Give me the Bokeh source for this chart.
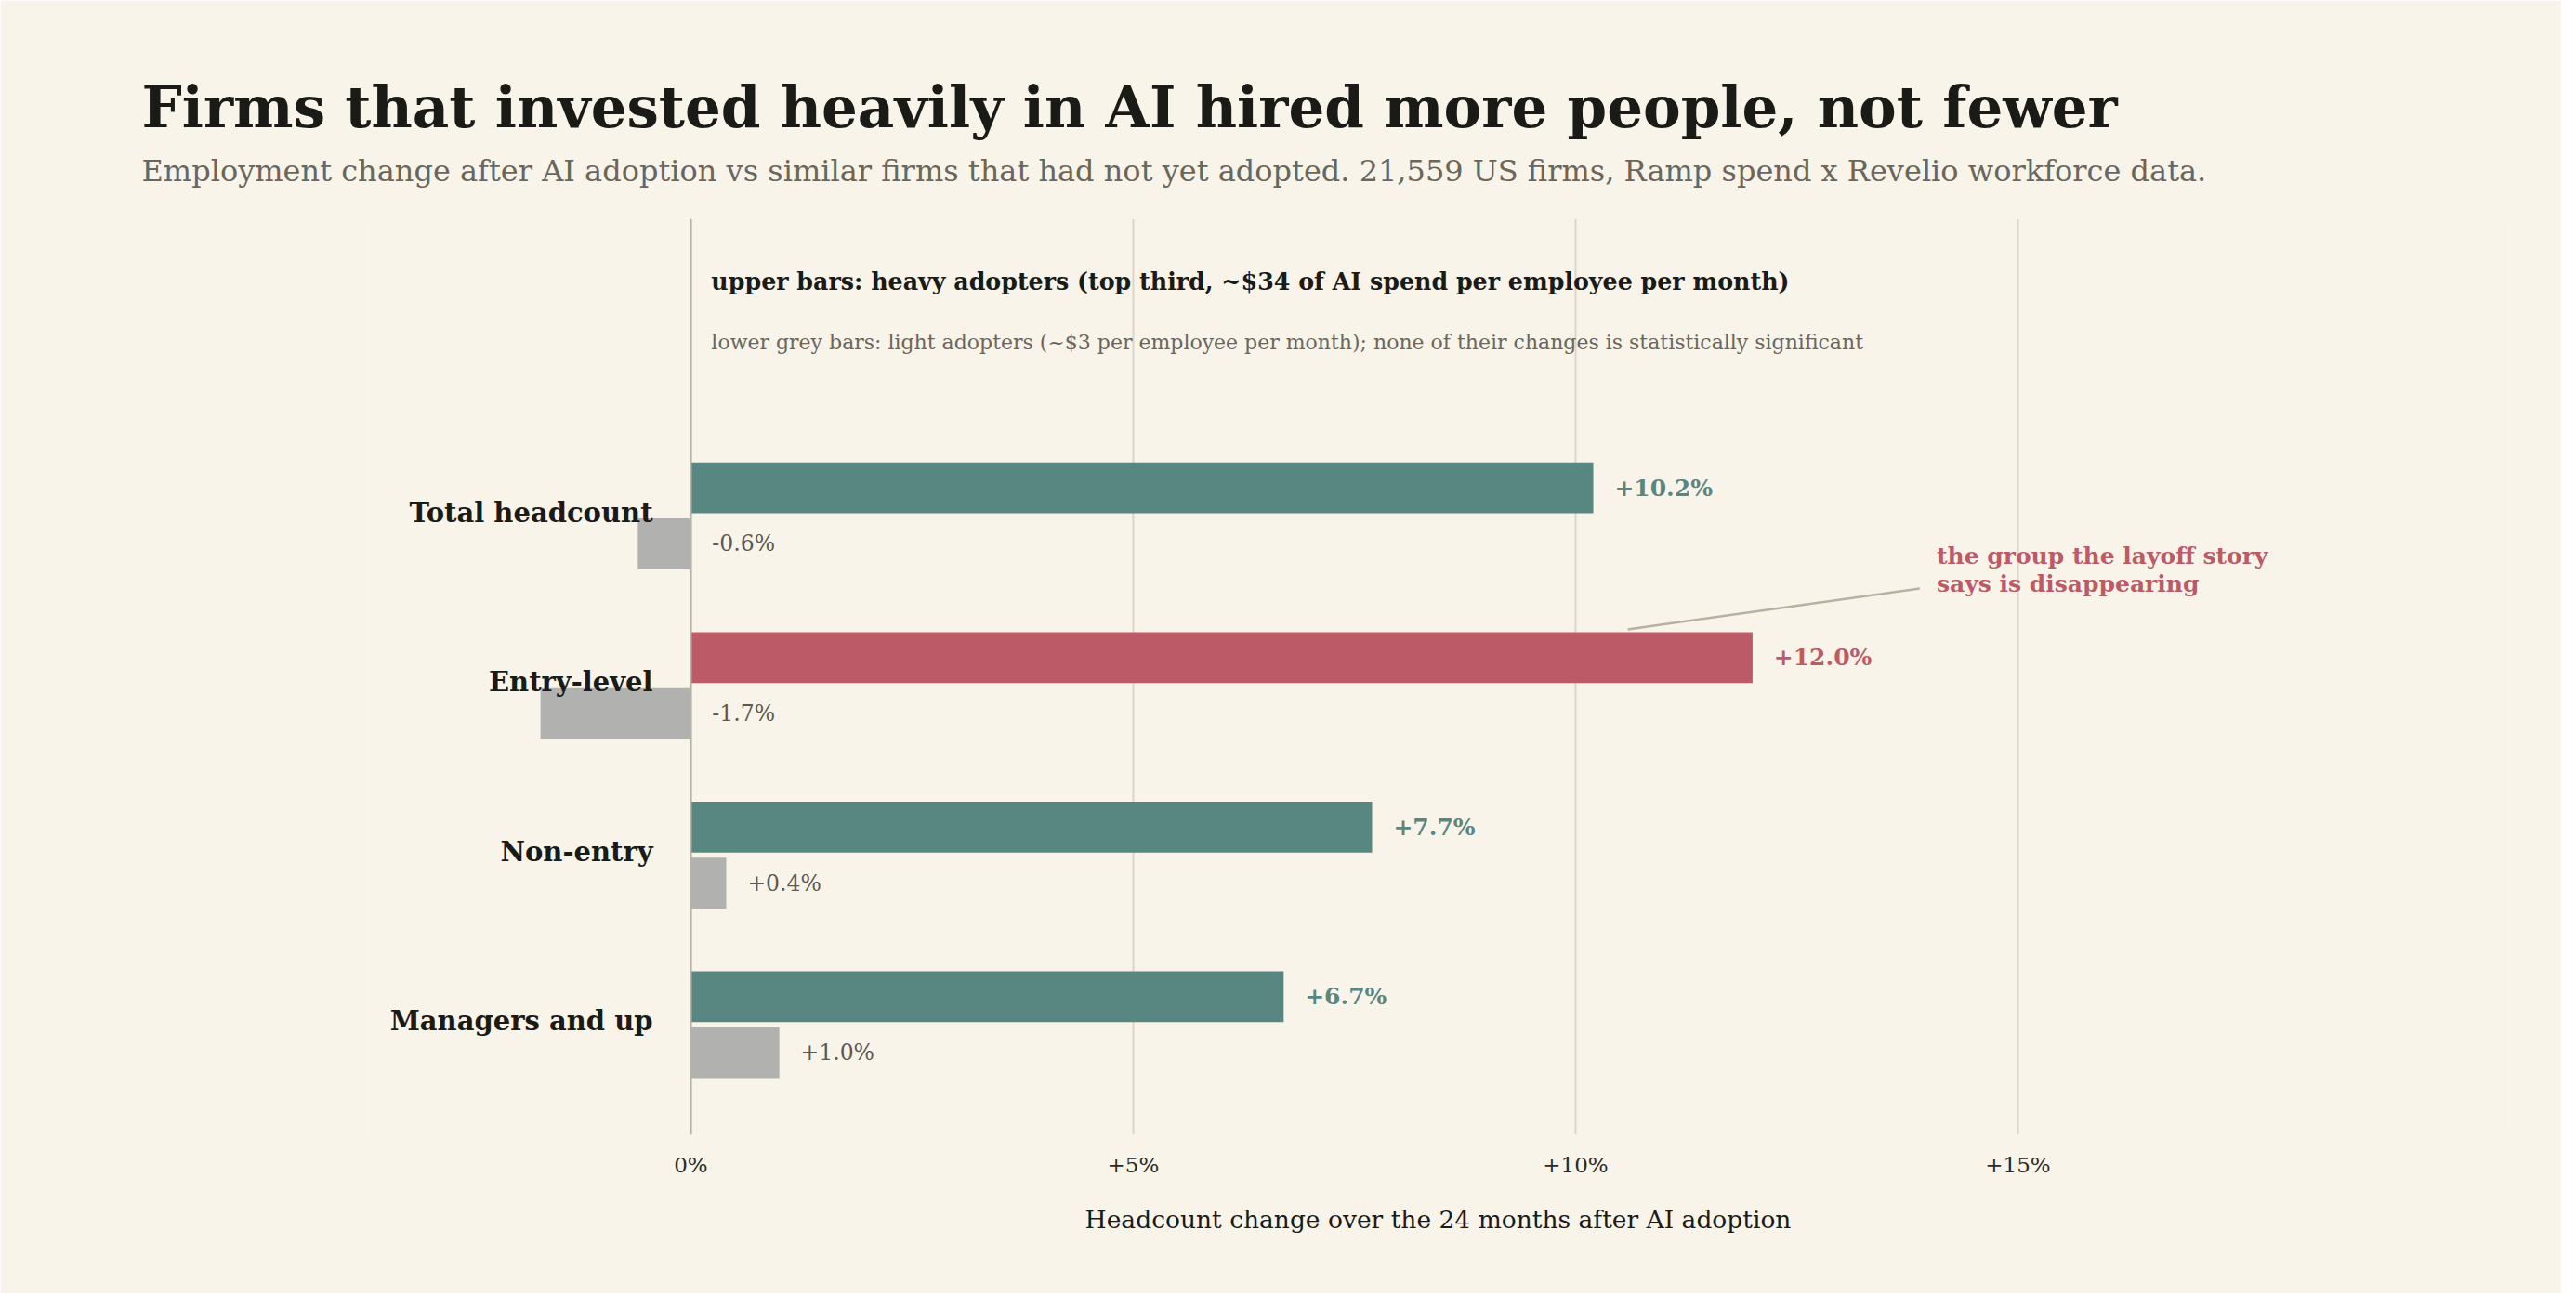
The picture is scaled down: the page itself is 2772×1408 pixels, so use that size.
from bokeh.plotting import figure
from bokeh.models import ColumnDataSource, Range1d, FixedTicker, Span, Title
from bokeh.embed import file_html
from bokeh.resources import INLINE
from bokeh.core.properties import value

# ---------------- data ----------------
categories = ["Total headcount", "Entry-level", "Non-entry", "Managers and up"]
heavy = [10.2, 12.0, 7.7, 6.7]          # heavy adopters, % headcount change
light = [-0.6, -1.7, 0.4, 1.0]          # light adopters, % headcount change
tick_values = [0, 5, 10, 15]
tick_labels = ["0%", "+5%", "+10%", "+15%"]
highlight = "Entry-level"

TITLE = "Firms that invested heavily in AI hired more people, not fewer"
SUBTITLE = ("Employment change after AI adoption vs similar firms that had not yet adopted. "
            "21,559 US firms, Ramp spend x Revelio workforce data.")
NOTE_HEAVY = "upper bars: heavy adopters (top third, ~$34 of AI spend per employee per month)"
NOTE_LIGHT = ("lower grey bars: light adopters (~$3 per employee per month); "
              "none of their changes is statistically significant")
CALLOUT = ["the group the layoff story", "says is disappearing"]
X_LABEL = "Headcount change over the 24 months after AI adoption"

# ---------------- style ----------------
FONT = "DejaVu Serif"
BG = "#f8f4e9"
TEAL = "#588681"
RED = "#bd5a67"
GREY = "#b1b2b0"
INK = "#1a1a17"
MUTED = "#6b665c"

W, H = 2756, 1392
BL, BR, BT, BB = 395, 57, 235, 171

p = figure(width=W, height=H, output_backend="svg", toolbar_location=None, title=None,
           x_range=Range1d(-3.655, 20.546), y_range=Range1d(3.649, -1.752),
           min_border_left=BL, min_border_right=BR, min_border_top=BT,
           min_border_bottom=BB, y_axis_location=None)
p.background_fill_color = BG
p.border_fill_color = BG
p.outline_line_color = None

ticker = FixedTicker(ticks=tick_values)
p.xaxis.ticker = ticker
p.xaxis.major_label_overrides = {v: t for v, t in zip(tick_values, tick_labels)}
p.xaxis.axis_line_color = None
p.xaxis.major_tick_line_color = None
p.xaxis.minor_tick_line_color = None
p.xaxis.major_label_text_font = FONT
p.xaxis.major_label_text_font_size = "23px"
p.xaxis.major_label_text_color = "#2a2a26"
p.xaxis.major_label_standoff = 13
p.xaxis.axis_label = X_LABEL
p.xaxis.axis_label_text_font = FONT
p.xaxis.axis_label_text_font_size = "26.5px"
p.xaxis.axis_label_text_font_style = "normal"
p.xaxis.axis_label_text_color = INK
p.xaxis.axis_label_standoff = 27

p.xgrid.ticker = ticker
p.xgrid.grid_line_color = "#dcd6c8"
p.xgrid.grid_line_width = 2
p.ygrid.visible = False
p.add_layout(Span(location=0, dimension="height", line_color="#b8b3a7", line_width=2))

# ---------------- bars ----------------
ypos = list(range(len(categories)))
OFF = 0.165
BAR_H = 0.30
heavy_colors = [RED if c == highlight else TEAL for c in categories]

src_h = ColumnDataSource(dict(
    y=[y - OFF for y in ypos], right=heavy, color=heavy_colors,
    lx=[v + 0.24 for v in heavy], lab=[f"{v:+.1f}%" for v in heavy]))
src_l = ColumnDataSource(dict(
    y=[y + OFF for y in ypos], right=light,
    lx=[max(v, 0) + 0.24 for v in light], lab=[f"{v:+.1f}%" for v in light]))
src_c = ColumnDataSource(dict(y=[y - 0.02 for y in ypos], x=[-0.43] * len(ypos), text=categories))

p.hbar(y="y", left=0, right="right", height=BAR_H, color="color", line_color=None, source=src_h)
p.hbar(y="y", left=0, right="right", height=BAR_H, color=GREY, line_color=None, source=src_l)

p.text(x="lx", y="y", text="lab", source=src_h, text_color="color",
       text_font=value(FONT), text_font_size=value("25px"), text_font_style="bold",
       text_baseline="middle", text_align="left")
p.text(x="lx", y="y", text="lab", source=src_l, text_color="#5c5850",
       text_font=value(FONT), text_font_size=value("23.5px"),
       text_baseline="middle", text_align="left")
p.text(x="x", y="y", text="text", source=src_c, text_color=INK,
       text_font=value(FONT), text_font_size=value("29px"), text_font_style="bold",
       text_baseline="middle", text_align="right")

# ---------------- notes inside the plot ----------------
p.text(x=[0.23], y=[-1.38], text=[NOTE_HEAVY], text_color=INK,
       text_font=value(FONT), text_font_size=value("25.3px"), text_font_style="bold",
       text_baseline="alphabetic", text_align="left")
p.text(x=[0.23], y=[-1.024], text=[NOTE_LIGHT], text_color=MUTED,
       text_font=value(FONT), text_font_size=value("22px"),
       text_baseline="alphabetic", text_align="left")

# callout for the highlighted bar
hi = categories.index(highlight)
hv = heavy[hi]
p.segment(x0=[hv - 1.41], y0=[hi - 0.331], x1=[hv + 1.89], y1=[hi - 0.572],
          line_color="#b8b1a2", line_width=2.5)
p.text(x=[hv + 2.08] * 2, y=[hi - 0.764, hi - 0.60], text=CALLOUT, text_color=RED,
       text_font=value(FONT), text_font_size=value("25px"), text_font_style="bold",
       text_baseline="alphabetic", text_align="left")

# ---------------- title / subtitle ----------------
OFFSET = 154 - 8 - BL + 6
p.add_layout(Title(text=SUBTITLE, align="left", offset=OFFSET, standoff=65,
                   text_font=FONT, text_font_size="32px", text_font_style="normal",
                   text_color=MUTED), "above")
p.add_layout(Title(text=TITLE, align="left", offset=OFFSET, standoff=-40,
                   text_font=FONT, text_font_size="61px", text_font_style="bold",
                   text_color=INK), "above")

html = file_html(p, INLINE)
html = html.replace("<body>", f'<body style="background:{BG}">', 1)
open("out.html", "w").write(html)
